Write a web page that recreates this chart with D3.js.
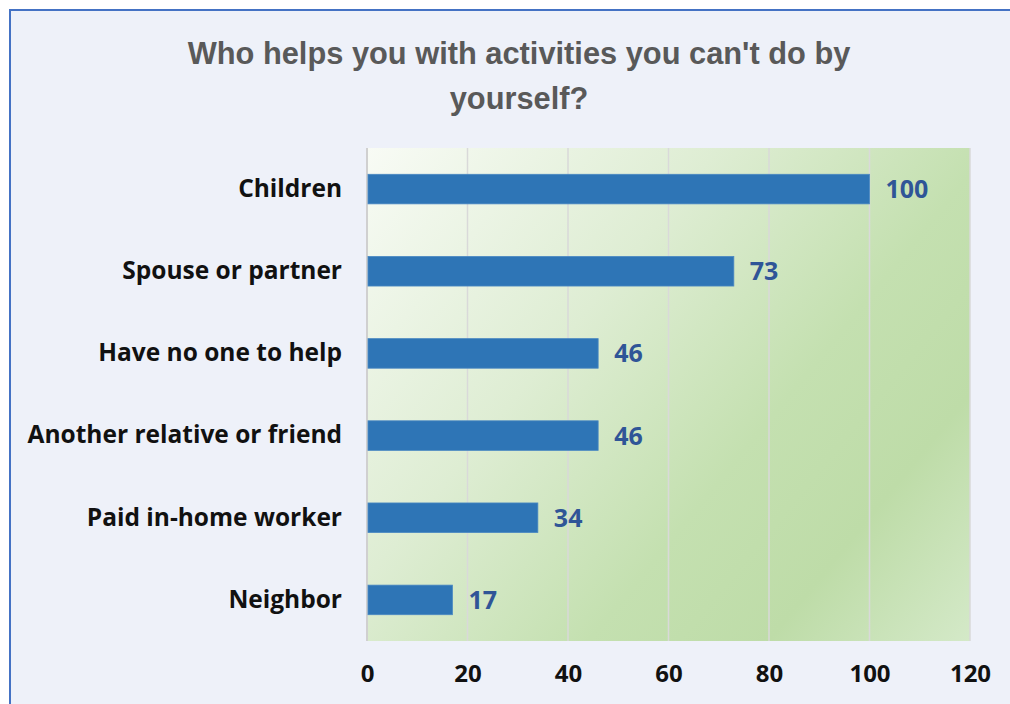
<!DOCTYPE html>
<html>
<head>
<meta charset="utf-8">
<script src="https://cdn.jsdelivr.net/npm/d3@7"></script>
<style>
  html, body { margin: 0; padding: 0; background: #ffffff; }
  svg { display: block; }
</style>
</head>
<body>
<div id="chart"></div>
<script>
// Survey responses: who helps with activities people can't do by themselves
const categories = ["Children", "Spouse or partner", "Have no one to help",
                    "Another relative or friend", "Paid in-home worker", "Neighbor"];
const values = [100, 73, 46, 46, 34, 17];
const xTicks = [0, 20, 40, 60, 80, 100, 120];
const titleLines = ["Who helps you with activities you can't do by", "yourself?"];

const W = 1010, H = 704;
const plot = { left: 367, top: 148, right: 970, bottom: 641 };
const labelFont = "'Open Sans', Lato, sans-serif";

const svg = d3.select("#chart").append("svg")
  .attr("width", W).attr("height", H);

// Panel background and frame
svg.append("rect").attr("x", 0).attr("y", 0).attr("width", W).attr("height", H)
  .attr("fill", "#ffffff");
svg.append("rect").attr("x", 10).attr("y", 10).attr("width", W + 10).attr("height", H + 10)
  .attr("fill", "#eef1f9").attr("stroke", "#4472c4").attr("stroke-width", 2);

// Diagonal green gradient for the plot area
const defs = svg.append("defs");
const grad = defs.append("linearGradient").attr("id", "plotFill")
  .attr("gradientUnits", "userSpaceOnUse")
  .attr("x1", plot.left).attr("y1", plot.top)
  .attr("x2", plot.right).attr("y2", plot.bottom);
[[0, "#f8fbf5"], [0.35, "#deedd3"], [0.62, "#c4e0b0"], [0.8, "#bedca8"], [1, "#d4e9c8"]]
  .forEach(([o, c]) => grad.append("stop").attr("offset", o).attr("stop-color", c));

svg.append("rect")
  .attr("x", plot.left).attr("y", plot.top)
  .attr("width", plot.right - plot.left).attr("height", plot.bottom - plot.top)
  .attr("fill", "url(#plotFill)");

const x = d3.scaleLinear().domain([0, 120]).range([plot.left, plot.right]);
const y = d3.scaleBand().domain(categories).range([plot.top, plot.bottom]).paddingInner(0.64).paddingOuter(0.32);

// Vertical gridlines
svg.append("g").selectAll("line").data(xTicks.slice(1)).join("line")
  .attr("x1", d => x(d)).attr("x2", d => x(d))
  .attr("y1", plot.top).attr("y2", plot.bottom)
  .attr("stroke", "#d9d9d9").attr("stroke-width", 1.5);

// Category axis line
svg.append("line")
  .attr("x1", x(0)).attr("x2", x(0)).attr("y1", plot.top).attr("y2", plot.bottom)
  .attr("stroke", "#d0d0d0").attr("stroke-width", 2);

// Bars
svg.append("g").selectAll("rect").data(values).join("rect")
  .attr("x", x(0) + 1)
  .attr("y", (d, i) => y(categories[i]))
  .attr("width", d => x(d) - x(0) - 1)
  .attr("height", y.bandwidth())
  .attr("fill", "#2e75b6")
  .attr("stroke", "#4a88c2").attr("stroke-width", 0.8);

// Value labels
svg.append("g").selectAll("text").data(values).join("text")
  .attr("x", d => x(d) + 16)
  .attr("y", (d, i) => y(categories[i]) + y.bandwidth() / 2)
  .attr("dy", "0.36em")
  .attr("font-family", labelFont)
  .attr("font-weight", 700).attr("font-size", 25)
  .attr("fill", "#2f5597")
  .text(d => d);

// Category labels via a left axis
const yAxis = svg.append("g")
  .attr("transform", `translate(${x(0) - 25},0)`)
  .call(d3.axisLeft(y).tickSize(0).tickPadding(0));
yAxis.select(".domain").remove();
yAxis.selectAll("text")
  .attr("font-family", labelFont)
  .attr("font-weight", 700).attr("font-size", 24.5)
  .attr("fill", "#111111");

// Value axis labels
const xAxis = svg.append("g")
  .attr("transform", `translate(0,${plot.bottom})`)
  .call(d3.axisBottom(x).tickValues(xTicks).tickSize(0).tickPadding(24));
xAxis.select(".domain").remove();
xAxis.selectAll("text")
  .attr("font-family", labelFont)
  .attr("font-weight", 700).attr("font-size", 24)
  .attr("fill", "#111111");

// Title
svg.append("g").selectAll("text").data(titleLines).join("text")
  .attr("x", 519).attr("y", (d, i) => 64 + i * 45)
  .attr("text-anchor", "middle")
  .attr("font-family", "'Liberation Sans', Arial, sans-serif")
  .attr("font-weight", 700).attr("font-size", 30.8)
  .attr("fill", "#595959")
  .text(d => d);
</script>
</body>
</html>
